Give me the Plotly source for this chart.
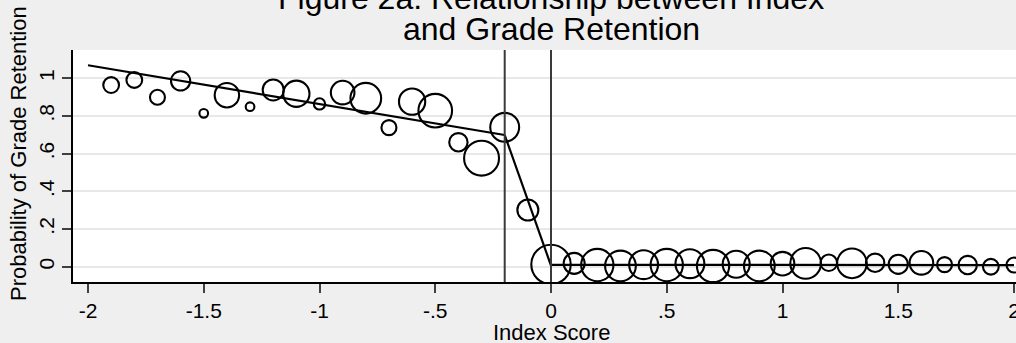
import plotly.graph_objects as go

# ---- data ----
bin_x = [-1.9, -1.8, -1.7, -1.6, -1.5, -1.4, -1.3, -1.2, -1.1, -1.0,
         -0.9, -0.8, -0.7, -0.6, -0.5, -0.4, -0.3, -0.2, -0.1, 0.0,
         0.1, 0.2, 0.3, 0.4, 0.5, 0.6, 0.7, 0.8, 0.9, 1.0,
         1.1, 1.2, 1.3, 1.4, 1.5, 1.6, 1.7, 1.8, 1.9, 2.0]
bin_retention = [0.964, 0.991, 0.899, 0.986, 0.814, 0.910, 0.849, 0.938, 0.918, 0.864,
                 0.924, 0.894, 0.738, 0.876, 0.828, 0.660, 0.576, 0.740, 0.301, 0.012,
                 0.018, 0.009, 0.004, 0.011, 0.009, 0.016, 0.004, 0.013, 0.004, 0.016,
                 0.018, 0.021, 0.018, 0.021, 0.013, 0.021, 0.011, 0.009, 0.000, 0.009]
bin_n = [360, 360, 325, 533, 109, 865, 109, 640, 1000, 185,
         810, 1369, 325, 1000, 1638, 490, 1769, 1210, 640, 2250,
         640, 1513, 1369, 1210, 1513, 1210, 1513, 1061, 1369, 810,
         1369, 397, 1277, 490, 533, 810, 325, 490, 360, 325]

fit_left_x = [-2.0, -0.2]
fit_left_y = [1.069, 0.699]
fit_mid_x = [-0.2, 0.0]
fit_mid_y = [0.699, 0.006]
fit_right_x = [0.0, 2.0]
fit_right_y = [0.010, 0.009]

cutoffs = [-0.2, 0.0]

x_tickvals = [-2, -1.5, -1, -0.5, 0, 0.5, 1, 1.5, 2]
x_ticktext = ["-2", "-1.5", "-1", "-.5", "0", ".5", "1", "1.5", "2"]
y_tickvals = [0, 0.2, 0.4, 0.6, 0.8, 1.0]
y_ticktext = ["0", ".2", ".4", ".6", ".8", "1"]

title_line1 = "Figure 2a: Relationship between Index"
title_line2 = "and Grade Retention"
x_title = "Index Score"
y_title = "Probability of Grade Retention"

# ---- layout constants (pixels) ----
W, H = 1016, 343
ML, MR, MT, MB = 73, 0, 50, 61
PW = W - ML - MR
PH = H - MT - MB
FONT = "Liberation Sans, Arial, sans-serif"


def py_to_paper(py):
    return (H - MB - py) / PH


def px_to_paper(px):
    return (px - ML) / PW


fig = go.Figure()

for fx, fy in [(fit_left_x, fit_left_y), (fit_mid_x, fit_mid_y), (fit_right_x, fit_right_y)]:
    fig.add_trace(go.Scatter(x=fx, y=fy, mode="lines",
                             line=dict(color="black", width=2.2),
                             hoverinfo="skip", showlegend=False))

fig.add_trace(go.Scatter(
    x=bin_x, y=bin_retention, mode="markers",
    marker=dict(symbol="circle", size=bin_n, sizemode="area", sizeref=2.9,
                color="rgba(0,0,0,0)", opacity=1,
                line=dict(color="black", width=2.1)),
    cliponaxis=True, showlegend=False))

for c in cutoffs:
    fig.add_shape(type="line", xref="x", yref="paper", x0=c, x1=c, y0=0, y1=1,
                  line=dict(color="#3a3a3a", width=2, dash="solid"), layer="above")

annotations = [
    dict(text=title_line1, x=0, xref="x", y=py_to_paper(-1.5), yref="paper",
         xanchor="center", yanchor="middle", showarrow=False,
         font=dict(family=FONT, size=32, color="black")),
    dict(text=title_line2, x=0, xref="x", y=py_to_paper(29.5), yref="paper",
         xanchor="center", yanchor="middle", showarrow=False,
         font=dict(family=FONT, size=32, color="black")),
    dict(text=x_title, x=0, xref="x", y=py_to_paper(332), yref="paper",
         xanchor="center", yanchor="middle", showarrow=False,
         font=dict(family=FONT, size=22, color="black")),
    dict(text=y_title, x=px_to_paper(18), xref="paper", y=py_to_paper(154), yref="paper",
         xanchor="center", yanchor="middle", showarrow=False, textangle=-90,
         font=dict(family=FONT, size=22, color="black")),
]

fig.update_layout(
    template="none",
    width=W, height=H,
    margin=dict(l=ML, r=MR, t=MT, b=MB, pad=0, autoexpand=False),
    paper_bgcolor="#efefef", plot_bgcolor="white",
    font=dict(family=FONT, size=21, color="black"),
    showlegend=False,
    hovermode=False,
    annotations=annotations,
    xaxis=dict(range=[-2.0648, 2.0086], tickvals=x_tickvals, ticktext=x_ticktext,
               automargin=False, ticklabeloverflow="allow",
               showgrid=False, zeroline=False, showline=True, linecolor="black",
               linewidth=1.5, ticks="outside", ticklen=9, tickwidth=1.5,
               tickcolor="#404040", tickfont=dict(family=FONT, size=21, color="black")),
    yaxis=dict(range=[-0.081, 1.150], tickvals=y_tickvals, ticktext=y_ticktext,
               automargin=False, ticklabeloverflow="allow",
               showgrid=True, gridcolor="#e8e8e8", gridwidth=2, zeroline=False,
               showline=True, linecolor="black", linewidth=1.5, ticks="outside",
               ticklen=9, tickwidth=1.5, tickcolor="#404040", tickangle=-90,
               tickfont=dict(family=FONT, size=21, color="black")),
)

fig.write_html("out.html", config={"displayModeBar": False},
               post_script="document.body.style.margin='0';document.body.style.overflow='hidden';document.body.style.background='#efefef';")
